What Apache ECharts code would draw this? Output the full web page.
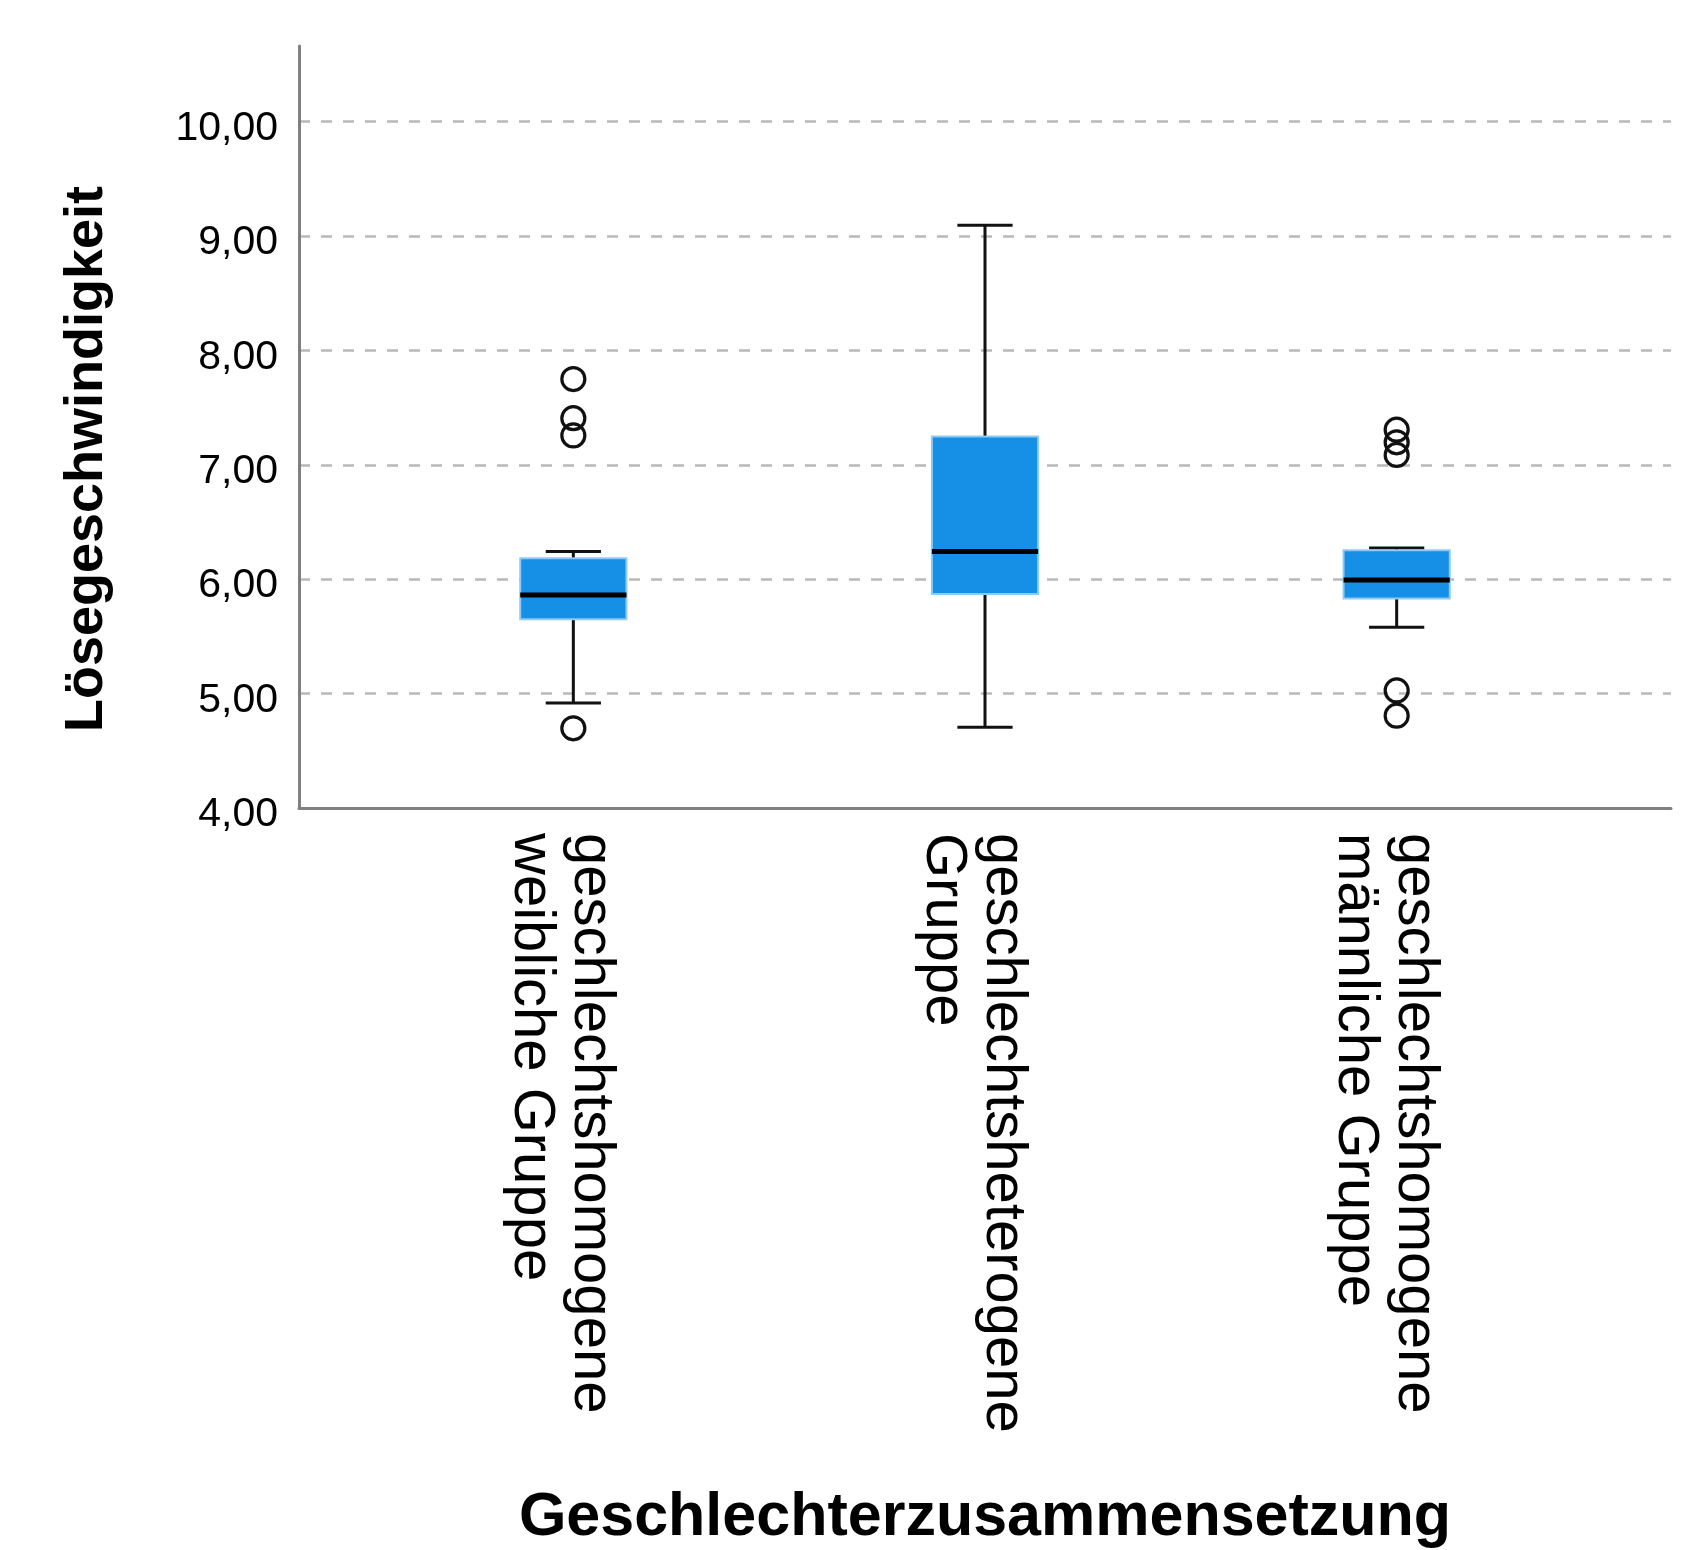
<!DOCTYPE html>
<html>
<head>
<meta charset="utf-8">
<script src="https://cdn.jsdelivr.net/npm/echarts@6/dist/echarts.min.js"></script>
<style>
  html, body { margin: 0; padding: 0; background: #ffffff; }
  #chart { width: 1698px; height: 1550px; }
</style>
</head>
<body>
<div id="chart"></div>
<script>
// Groups on the horizontal axis
const groups = [
  'geschlechtshomogene\nweibliche Gruppe',
  'geschlechtsheterogene\nGruppe',
  'geschlechtshomogene\nmännliche Gruppe'
];

// Five-number summaries per group
const whiskerLow  = [4.94, 4.73, 5.60];
const quartile1   = [5.67, 5.89, 5.85];
const medians     = [5.88, 6.26, 6.01];
const quartile3   = [6.20, 7.26, 6.27];
const whiskerHigh = [6.26, 9.10, 6.29];

// Outliers: [group index, value]
const outliers = [
  [0, 7.76], [0, 7.42], [0, 7.27], [0, 4.72],
  [2, 7.32], [2, 7.21], [2, 7.10], [2, 5.05], [2, 4.83]
];

// Value axis range and step
const yMin = 4;
const yMax = 10.66;
const yStep = 1;

const BLUE = '#1590e6';
const INK = '#111111';
const AXIS_GREY = '#808080';

const boxData = groups.map((g, i) => [i, whiskerLow[i], quartile1[i], medians[i], quartile3[i], whiskerHigh[i]]);

function renderBox(params, api) {
  const i = api.value(0);
  const pLow = api.coord([i, api.value(1)]);
  const pQ1 = api.coord([i, api.value(2)]);
  const pMed = api.coord([i, api.value(3)]);
  const pQ3 = api.coord([i, api.value(4)]);
  const pHigh = api.coord([i, api.value(5)]);
  const band = api.size([1, 0])[0];
  const half = band * 0.129;
  const capHalf = half * 0.52;
  const cx = pMed[0];
  const whisker = { stroke: INK, lineWidth: 3 };
  return {
    type: 'group',
    children: [
      { type: 'line', shape: { x1: cx, y1: pLow[1], x2: cx, y2: pHigh[1] }, style: whisker },
      { type: 'line', shape: { x1: cx - capHalf, y1: pLow[1], x2: cx + capHalf, y2: pLow[1] }, style: whisker },
      { type: 'line', shape: { x1: cx - capHalf, y1: pHigh[1], x2: cx + capHalf, y2: pHigh[1] }, style: whisker },
      { type: 'rect', shape: { x: cx - half, y: pQ3[1], width: half * 2, height: pQ1[1] - pQ3[1] },
        style: { fill: BLUE, stroke: '#8fcaf3', lineWidth: 2 } },
      { type: 'line', shape: { x1: cx - half, y1: pMed[1], x2: cx + half, y2: pMed[1] },
        style: { stroke: '#000000', lineWidth: 5 } }
    ]
  };
}

// Category labels: a short spacer line ahead of the text lines
function groupLabel(v) {
  return '{s|}\n' + v.split('\n').map(line => '{a|' + line + '}').join('\n');
}

const chart = echarts.init(document.getElementById('chart'), null, { renderer: 'canvas' });

chart.setOption({
  animation: false,
  backgroundColor: '#ffffff',
  grid: [
    // frame with axis lines, gridlines and tick labels
    { left: 299, right: 27, top: 46, bottom: 739 },
    // inner band where the groups sit
    { left: 367.5, right: 95.5, top: 46, bottom: 739 }
  ],
  xAxis: [
    {
      gridIndex: 0, type: 'value', min: 0, max: 1,
      axisLine: { show: true, lineStyle: { color: AXIS_GREY, width: 3 } },
      axisTick: { show: false }, axisLabel: { show: false }, splitLine: { show: false },
      name: 'Geschlechterzusammensetzung',
      nameLocation: 'middle',
      nameGap: 680,
      nameTextStyle: { fontFamily: 'Liberation Sans', fontWeight: 'bold', fontSize: 61, color: '#000' }
    },
    {
      gridIndex: 1, type: 'category', data: groups, boundaryGap: true,
      axisLine: { show: false }, axisTick: { show: false }, splitLine: { show: false },
      axisLabel: {
        rotate: -90, margin: 22, interval: 0,
        formatter: groupLabel,
        rich: {
          s: { lineHeight: 24, fontSize: 10 },
          a: { fontFamily: 'Liberation Sans', fontSize: 58, lineHeight: 60, color: '#000' }
        }
      }
    }
  ],
  yAxis: [
    {
      gridIndex: 0, type: 'value', min: yMin, max: yMax, interval: yStep,
      axisLine: { show: true, lineStyle: { color: AXIS_GREY, width: 3 } },
      axisTick: { show: false },
      axisLabel: {
        margin: 21, showMaxLabel: false, verticalAlign: 'top', lineHeight: 14,
        fontFamily: 'Liberation Sans', fontSize: 41, color: '#000',
        formatter: v => Number.isInteger(v) ? v.toFixed(2).replace('.', ',') : ''
      },
      splitLine: {
        show: true, showMinLine: false, showMaxLine: false,
        lineStyle: { color: '#b9b9b9', width: 2.5, type: [11, 11] }
      },
      name: 'Lösegeschwindigkeit',
      nameLocation: 'middle',
      nameRotate: 90,
      nameGap: 185,
      nameTextStyle: { fontFamily: 'Liberation Sans', fontWeight: 'bold', fontSize: 54, color: '#000', padding: [0, 64, 0, 0] }
    },
    {
      gridIndex: 1, type: 'value', min: yMin, max: yMax, interval: yStep, show: false,
      splitLine: { show: false }
    }
  ],
  series: [
    {
      type: 'custom', name: 'box',
      xAxisIndex: 1, yAxisIndex: 1,
      renderItem: renderBox,
      encode: { x: 0, y: [1, 2, 3, 4, 5] },
      data: boxData,
      z: 3
    },
    {
      type: 'scatter', name: 'outliers',
      xAxisIndex: 1, yAxisIndex: 1,
      symbol: 'circle', symbolSize: 23,
      itemStyle: { color: 'rgba(0,0,0,0)', borderColor: INK, borderWidth: 3.2, opacity: 1 },
      data: outliers,
      z: 4
    }
  ]
});
</script>
</body>
</html>
